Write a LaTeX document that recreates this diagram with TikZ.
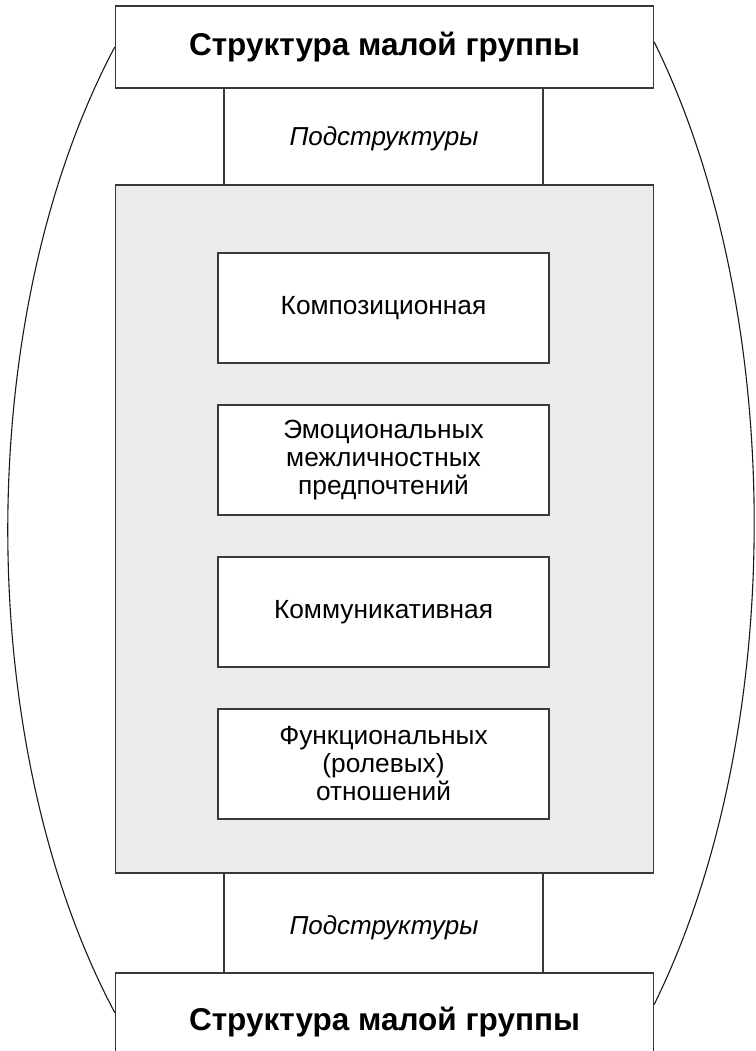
\documentclass[tikz,border=0pt]{standalone}
\usepackage{fontspec}
\setmainfont{Liberation Sans}
\begin{document}
\begin{tikzpicture}[x=1pt,y=1pt,
  frame/.style={draw=black!78, line width=1.4pt},
  titlebox/.style={frame, fill=white, minimum width=538, inner sep=0pt, font=\fontsize{31.5}{36}\selectfont\bfseries},
  subbox/.style={frame, fill=white, minimum width=331, minimum height=110, inner sep=0pt, align=center, font=\fontsize{26.3}{28}\selectfont},
  sublabel/.style={font=\fontsize{26}{30}\selectfont\itshape},
  link/.style={draw=black!78, line width=1.2pt},
  bow/.style={draw=black!90, line width=1.1pt}]
\useasboundingbox (0,0) rectangle (755,1051);
% gray container
\node[frame, fill=black!8, minimum width=538, minimum height=688, inner sep=0pt] (grp) at (384.5,522) {};
% top and bottom boxes
\node[titlebox, minimum height=82] (top) at (384.5,1004) {Структура малой группы};
\node[titlebox, minimum height=98] (bot) at (384.5,29) {Структура малой группы};
% connecting lines
\draw[link] ([xshift=-160.5]top.south) -- ([xshift=-160.5]grp.north);
\draw[link] ([xshift=158.5]top.south) -- ([xshift=158.5]grp.north);
\draw[link] ([xshift=-160.5]grp.south) -- ([xshift=-160.5]bot.north);
\draw[link] ([xshift=158.5]grp.south) -- ([xshift=158.5]bot.north);
\node[sublabel] (s1) at (384,912) {Подструктуры};
\node[sublabel] (s2) at (384,123) {Подструктуры};
% inner boxes
\node[subbox] (b1) at (383.5,743) {Композиционная};
\node[subbox] (b2) at (383.5,591) {Эмоциональных\\межличностных\\предпочтений};
\node[subbox] (b3) at (383.5,439) {Коммуникативная};
\node[subbox] (b4) at (383.5,287) {Функциональных\\(ролевых)\\отношений};
% outer bows
\coordinate (lt) at (top.west);
\coordinate (rt) at ([yshift=5]top.east);
\draw[bow] (lt) arc[start angle=135.67, end angle=224.33, x radius=376, y radius=691];
\draw[bow] (rt) arc[start angle=43.2, end angle=-43.2, x radius=369, y radius=703];
\end{tikzpicture}
\end{document}
